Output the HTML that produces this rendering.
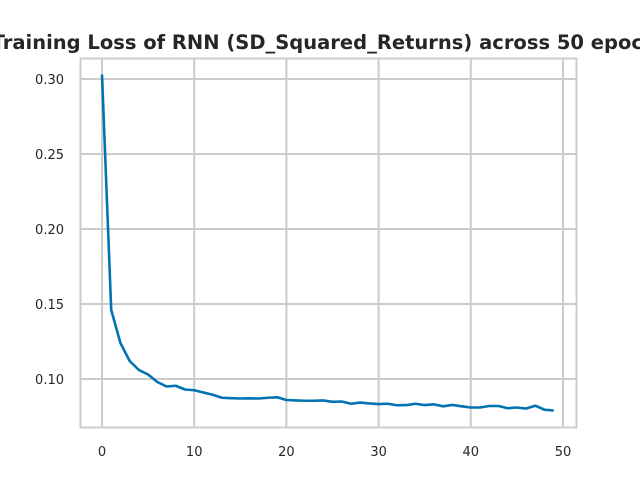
<!DOCTYPE html>
<html><head><meta charset="utf-8"><style>
body{margin:0;background:#fff;overflow:hidden;}
svg text{font-family:"DejaVu Sans","Liberation Sans",sans-serif;}
</style></head><body>
<svg width="640" height="480" xmlns="http://www.w3.org/2000/svg">
<g id="grid"></g>
<g id="ticks"></g>
<polyline id="line" fill="none" stroke="#0173b2" stroke-width="2.6" stroke-linejoin="round"/>
<rect x="80.5" y="58.5" width="496" height="369" fill="none" stroke="#cccccc" stroke-width="2"/>
<text x="330" y="49" text-anchor="middle" font-size="19.5" font-weight="bold" fill="#262626">Training Loss of RNN (SD_Squared_Returns) across 50 epochs</text>
</svg>
<script>
const epochs=[...Array(50).keys()];
const loss=[0.303,0.146,0.124,0.112,0.106,0.103,0.098,0.095,0.0955,0.093,0.0925,0.091,0.0895,0.0875,0.0872,0.087,0.0871,0.087,0.0875,0.0878,0.086,0.0857,0.0855,0.0855,0.0857,0.0848,0.085,0.0835,0.0843,0.0837,0.0833,0.0835,0.0825,0.0826,0.0835,0.0826,0.0831,0.0818,0.0827,0.0818,0.081,0.081,0.082,0.082,0.0805,0.081,0.0803,0.0822,0.0795,0.079];
const xTicks=[0,10,20,30,40,50];
const yTicks=[0.10,0.15,0.20,0.25,0.30];
const L=80,R=576,T=58,B=427;
const xs=v=>102+(v)*(563-102)/50;
const ys=v=>79+(0.30-v)*1500;
const ns="http://www.w3.org/2000/svg";
const g=document.getElementById('grid'),tk=document.getElementById('ticks');
xTicks.forEach(t=>{
 const l=document.createElementNS(ns,'line');
 l.setAttribute('x1',xs(t));l.setAttribute('x2',xs(t));l.setAttribute('y1',T);l.setAttribute('y2',B);
 l.setAttribute('stroke','#cccccc');l.setAttribute('stroke-width','2');
 
 
 g.appendChild(l);
 const s=document.createElementNS(ns,'text');
 s.setAttribute('x',xs(t));s.setAttribute('y',456);s.setAttribute('text-anchor','middle');s.setAttribute('font-size','13');s.setAttribute('fill','#262626');
 s.textContent=t;
 
 
 tk.appendChild(s);
});
yTicks.forEach(t=>{
 const l=document.createElementNS(ns,'line');
 l.setAttribute('x1',L);l.setAttribute('x2',R);l.setAttribute('y1',ys(t));l.setAttribute('y2',ys(t));
 l.setAttribute('stroke','#cccccc');l.setAttribute('stroke-width','2');
 
 
 g.appendChild(l);
 const s=document.createElementNS(ns,'text');
 s.setAttribute('x',64);s.setAttribute('y',ys(t)+5);s.setAttribute('text-anchor','end');s.setAttribute('font-size','13');s.setAttribute('fill','#262626');
 s.textContent=t.toFixed(2);
 
 
 tk.appendChild(s);
});
document.getElementById('line').setAttribute('points',epochs.map((e,i)=>xs(e)+','+ys(loss[i])).join(' '));
</script>
</body></html>
